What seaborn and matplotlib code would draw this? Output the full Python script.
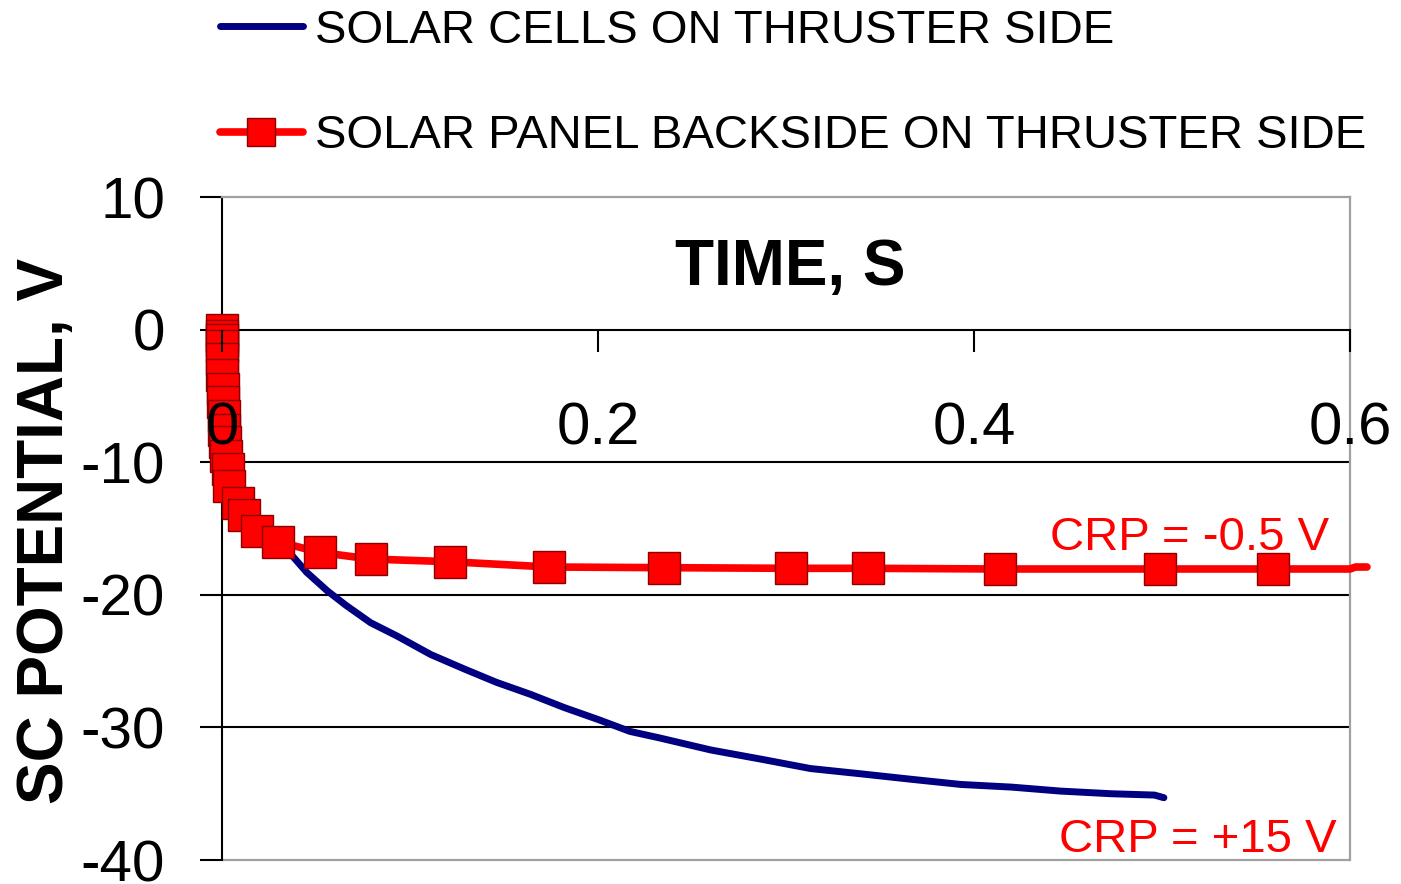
import matplotlib

matplotlib.use("Agg")
import matplotlib.pyplot as plt
import seaborn as sns

# solar cells on thruster side (blue curve), time in s, potential in V
cells_t = [0.0, 0.002, 0.005, 0.010, 0.020, 0.030, 0.037, 0.045, 0.056, 0.066,
           0.079, 0.093, 0.111, 0.129, 0.146, 0.164, 0.182, 0.200, 0.217, 0.233,
           0.260, 0.287, 0.313, 0.340, 0.366, 0.393, 0.420, 0.446, 0.473, 0.496, 0.501]
cells_v = [0.0, -9.0, -12.0, -13.5, -15.2, -16.3, -17.0, -18.3, -19.7, -20.8,
           -22.1, -23.1, -24.5, -25.6, -26.6, -27.5, -28.5, -29.4, -30.3, -30.8,
           -31.7, -32.4, -33.1, -33.5, -33.9, -34.3, -34.5, -34.8, -35.0, -35.1, -35.3]

# solar panel backside on thruster side (red squares); last 3 points carry no marker
panel_t = [0.0, 0.0, 0.0, 0.0, 0.0, 0.0, 0.0007, 0.0007, 0.001, 0.001, 0.0017,
           0.002, 0.003, 0.0039, 0.0083, 0.0119, 0.0185, 0.030, 0.052, 0.079,
           0.121, 0.174, 0.235, 0.3025, 0.3435, 0.414, 0.499, 0.559,
           0.600, 0.603, 0.609]
panel_v = [0.0, -0.45, -0.75, -1.25, -2.2, -3.4, -4.45, -5.45, -6.5, -7.6, -8.5,
           -9.5, -10.5, -11.8, -13.1, -14.0, -15.2, -16.0, -16.8, -17.3,
           -17.5, -17.9, -17.95, -18.0, -18.0, -18.05, -18.05, -18.05,
           -18.05, -17.9, -17.9]
n_line_only = 3

labels = ["SOLAR CELLS ON THRUSTER SIDE", "SOLAR PANEL BACKSIDE ON THRUSTER SIDE"]
x_ticks = [0, 0.2, 0.4, 0.6]
x_ticklabels = ["0", "0.2", "0.4", "0.6"]
y_ticks = [-40, -30, -20, -10, 0, 10]

sns.set_theme(style="white")
plt.rcParams["font.family"] = ["Liberation Sans", "DejaVu Sans"]
plt.rcParams["axes.unicode_minus"] = False
plt.rcParams["text.color"] = "black"
plt.rcParams["axes.labelcolor"] = "black"

fig = plt.figure(figsize=(14.01, 8.84), dpi=100)
ax = fig.add_axes([0.1585, 0.0271, 0.8051, 0.75])

# gridlines below the data
for yv in [-10, -20, -30]:
    ax.axhline(yv, color="black", lw=1.5, zorder=1)
ax.axhline(-40, color="#a0a0a0", lw=1.6, zorder=1, clip_on=False)

sns.lineplot(x=cells_t, y=cells_v, sort=False, estimator=None, color="#000080",
             lw=5, label=labels[0], ax=ax)
sns.lineplot(x=panel_t, y=panel_v, sort=False, estimator=None, color="#ff0000",
             lw=5.5, marker="s", markersize=23, markerfacecolor="#ff0000",
             markeredgecolor="#8b0000", markeredgewidth=1,
             markevery=list(range(len(panel_t) - n_line_only)),
             label=labels[1], ax=ax, clip_on=False)

ax.set_xlim(0, 0.6)
ax.set_ylim(-40, 10)
ax.set_xticks(x_ticks)
ax.set_xticklabels(x_ticklabels)
ax.set_yticks(y_ticks)

ax.spines["bottom"].set_position(("data", 0))
ax.spines["bottom"].set_color("black")
ax.spines["bottom"].set_linewidth(1.5)
ax.spines["left"].set_color("black")
ax.spines["left"].set_linewidth(1.5)
for s in ["top", "right"]:
    ax.spines[s].set_color("#a0a0a0")
    ax.spines[s].set_linewidth(1.6)
for s in ax.spines.values():
    s.set_zorder(1)

ax.tick_params(axis="x", direction="out", length=16, width=1.5, pad=36,
               labelsize=43, colors="black", bottom=True)
ax.tick_params(axis="y", direction="out", length=16, width=1.5, pad=25,
               labelsize=42, colors="black", left=True)
ax.xaxis.set_zorder(5)

ax.set_xlabel("TIME, S", fontsize=46, fontweight="bold", va="baseline")
ax.xaxis.set_label_coords(0.5035, 0.867)
ax.set_ylabel("SC POTENTIAL, V", fontsize=46, fontweight="bold", va="center")
ax.yaxis.set_label_coords(-0.156, 0.497)

ax.text(0.589, -16.65, "CRP = -0.5 V", color="#ff0000", fontsize=34,
        ha="right", va="baseline")
ax.text(0.593, -39.4, "CRP = +15 V", color="#ff0000", fontsize=34,
        ha="right", va="baseline")

handles, labs = ax.get_legend_handles_labels()
if ax.get_legend() is not None:
    ax.get_legend().remove()
fig.legend(handles, labs, loc="upper left", bbox_to_anchor=(0.157, 0.99),
           frameon=False, fontsize=34, borderpad=0, borderaxespad=0,
           handlelength=1.75, handletextpad=0.27, labelspacing=1.3,
           markerscale=0.9, labelcolor="black")

fig.savefig("out.png", dpi=100)
